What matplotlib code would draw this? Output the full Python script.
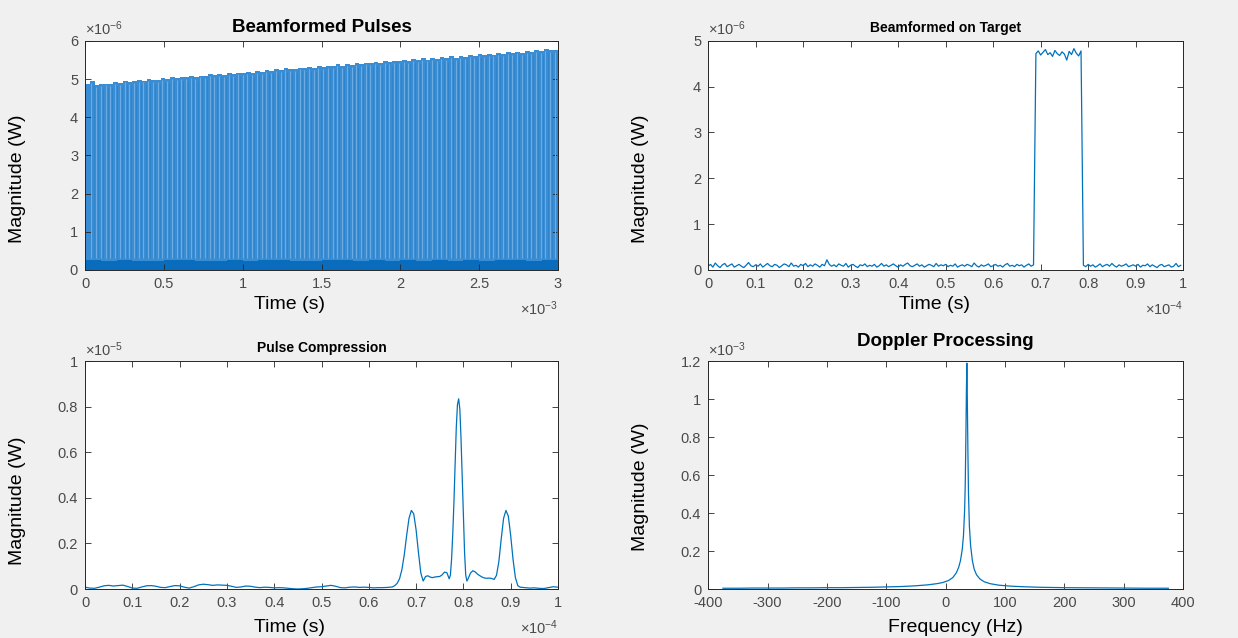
import numpy as np
import matplotlib
matplotlib.use("Agg")
import matplotlib.pyplot as plt
from matplotlib.ticker import FuncFormatter

plt.rcParams['font.family'] = ['Liberation Sans', 'DejaVu Sans']
plt.rcParams['mathtext.fontset'] = 'custom'
plt.rcParams['mathtext.rm'] = 'Liberation Sans'
plt.rcParams['mathtext.it'] = 'Liberation Sans:italic'

BLUE = '#0072BD'

# --- beamformed pulse train (time in ms, magnitude in 1e-6 W) ---
pulse_step_ms = 0.03
pulse_peaks = [
    4.86, 4.95, 4.84, 4.86, 4.88, 4.87, 4.92, 4.90, 4.96, 4.93,
    4.95, 4.97, 4.96, 4.99, 4.97, 4.98, 5.02, 5.00, 5.05, 5.03,
    5.06, 5.04, 5.08, 5.06, 5.09, 5.07, 5.12, 5.10, 5.13, 5.11,
    5.15, 5.13, 5.17, 5.15, 5.19, 5.16, 5.21, 5.19, 5.24, 5.22,
    5.25, 5.23, 5.28, 5.25, 5.27, 5.30, 5.28, 5.32, 5.29, 5.33,
    5.31, 5.35, 5.33, 5.38, 5.35, 5.39, 5.37, 5.42, 5.38, 5.43,
    5.41, 5.45, 5.42, 5.47, 5.44, 5.48, 5.46, 5.50, 5.48, 5.52,
    5.49, 5.54, 5.51, 5.55, 5.53, 5.57, 5.55, 5.59, 5.56, 5.61,
    5.58, 5.62, 5.60, 5.65, 5.62, 5.66, 5.64, 5.68, 5.66, 5.70,
    5.67, 5.72, 5.69, 5.74, 5.71, 5.76, 5.74, 5.78, 5.75, 5.77,
]
floor_step_ms = 0.1
pulse_floor = [
    0.25, 0.22, 0.26, 0.24, 0.23, 0.27, 0.25, 0.22, 0.24, 0.26,
    0.23, 0.25, 0.27, 0.24, 0.22, 0.26, 0.25, 0.23, 0.27, 0.24,
    0.26, 0.22, 0.25, 0.24, 0.27, 0.23, 0.26, 0.25, 0.24, 0.26,
]

# --- single pulse window (time in 1e-4 s, magnitude in 1e-6 W), 0.5 us samples ---
target_step = 0.005
target_mag = [
    0.08, 0.12, 0.06, 0.15, 0.09, 0.05, 0.11, 0.14, 0.07, 0.10, 0.13, 0.06, 0.09, 0.12, 0.08, 0.05, 0.10, 0.16, 0.09, 0.07,
    0.11, 0.08, 0.13, 0.06, 0.10, 0.14, 0.09, 0.07, 0.12, 0.10, 0.05, 0.09, 0.13, 0.11, 0.07, 0.15, 0.08, 0.10, 0.06, 0.12,
    0.09, 0.14, 0.07, 0.11, 0.08, 0.13, 0.10, 0.06, 0.12, 0.09, 0.22, 0.12, 0.08, 0.11, 0.07, 0.13, 0.10, 0.08, 0.14, 0.06,
    0.10, 0.12, 0.08, 0.05, 0.11, 0.09, 0.13, 0.07, 0.10, 0.08, 0.12, 0.06, 0.09, 0.14, 0.08, 0.11, 0.07, 0.10, 0.13, 0.09,
    0.06, 0.11, 0.08, 0.12, 0.15, 0.09, 0.07, 0.10, 0.13, 0.08, 0.11, 0.06, 0.09, 0.12, 0.10, 0.07, 0.14, 0.08, 0.11, 0.09,
    0.12, 0.07, 0.10, 0.08, 0.13, 0.06, 0.09, 0.11, 0.08, 0.12, 0.10, 0.07, 0.15, 0.09, 0.06, 0.11, 0.08, 0.10, 0.13, 0.07,
    0.09, 0.12, 0.08, 0.10, 0.06, 0.11, 0.14, 0.08, 0.10, 0.07, 0.12, 0.09, 0.11, 0.06, 0.10, 0.13, 0.08, 0.11, 4.72, 4.78,
    4.69, 4.75, 4.81, 4.70, 4.74, 4.66, 4.79, 4.72, 4.68, 4.76, 4.71, 4.58, 4.77, 4.70, 4.83, 4.73, 4.67, 4.78, 0.10, 0.07,
    0.12, 0.08, 0.11, 0.06, 0.09, 0.13, 0.07, 0.10, 0.12, 0.08, 0.14, 0.09, 0.06, 0.11, 0.08, 0.10, 0.13, 0.07, 0.09, 0.11,
    0.08, 0.12, 0.06, 0.10, 0.09, 0.13, 0.07, 0.11, 0.08, 0.05, 0.10, 0.12, 0.07, 0.09, 0.11, 0.06, 0.08, 0.14, 0.07, 0.10,
]

# --- matched filter output (time in 1e-4 s, magnitude in 1e-5 W) ---
pc_time = [
    0.00, 0.01, 0.02, 0.03, 0.04, 0.05, 0.06, 0.07, 0.08, 0.09,
    0.10, 0.11, 0.12, 0.13, 0.14, 0.15, 0.16, 0.17, 0.18, 0.19,
    0.20, 0.21, 0.22, 0.23, 0.24, 0.25, 0.26, 0.27, 0.28, 0.29,
    0.30, 0.31, 0.32, 0.33, 0.34, 0.35, 0.36, 0.37, 0.38, 0.39,
    0.40, 0.41, 0.42, 0.43, 0.44, 0.45, 0.46, 0.47, 0.48, 0.49,
    0.50, 0.51, 0.52, 0.53, 0.54, 0.55, 0.56, 0.57, 0.58, 0.59,
    0.60, 0.61, 0.62, 0.63, 0.64, 0.65,
    0.655, 0.66, 0.665, 0.67, 0.675, 0.68, 0.685, 0.69, 0.695, 0.70,
    0.705, 0.71, 0.715, 0.72, 0.725, 0.73, 0.735, 0.74, 0.745, 0.75,
    0.755, 0.76, 0.765, 0.77, 0.7725, 0.775, 0.7775, 0.78, 0.7825, 0.785,
    0.7875, 0.79, 0.7925, 0.795, 0.7975, 0.80, 0.8025, 0.805, 0.8075, 0.81,
    0.815, 0.82, 0.825, 0.83, 0.835, 0.84, 0.845, 0.85, 0.855, 0.86,
    0.865, 0.87, 0.875, 0.88, 0.885, 0.89, 0.895, 0.90, 0.905, 0.91,
    0.915, 0.92, 0.93, 0.94, 0.95, 0.96, 0.97, 0.98, 0.99, 1.00,
]
pc_mag = [
    0.008, 0.004, 0.003, 0.008, 0.014, 0.016, 0.013, 0.015, 0.017, 0.011,
    0.004, 0.003, 0.009, 0.014, 0.015, 0.012, 0.007, 0.006, 0.011, 0.015,
    0.014, 0.008, 0.004, 0.010, 0.018, 0.021, 0.019, 0.016, 0.018, 0.017,
    0.016, 0.012, 0.007, 0.009, 0.013, 0.012, 0.008, 0.006, 0.008, 0.007,
    0.005, 0.006, 0.005, 0.003, 0.001, 0.000, 0.001, 0.003, 0.006, 0.009,
    0.010, 0.013, 0.016, 0.012, 0.006, 0.005, 0.008, 0.009, 0.007, 0.008,
    0.007, 0.005, 0.006, 0.006, 0.007, 0.009,
    0.015, 0.025, 0.045, 0.085, 0.150, 0.235, 0.310, 0.345, 0.330, 0.260,
    0.160, 0.070, 0.035, 0.055, 0.058, 0.052, 0.050, 0.053, 0.054, 0.055,
    0.062, 0.074, 0.072, 0.045, 0.060, 0.130, 0.240, 0.380, 0.550, 0.710,
    0.810, 0.835, 0.790, 0.660, 0.490, 0.310, 0.160, 0.060, 0.035, 0.045,
    0.070, 0.080, 0.075, 0.065, 0.058, 0.052, 0.048, 0.047, 0.048, 0.046,
    0.042, 0.060, 0.120, 0.220, 0.310, 0.345, 0.320, 0.235, 0.130, 0.050,
    0.015, 0.008, 0.006, 0.004, 0.005, 0.003, 0.002, 0.006, 0.010, 0.008,
]

# --- doppler spectrum (Hz, magnitude in 1e-3 W) ---
dop_freq = [
    -375, -350, -325, -300, -275, -250, -225, -200, -175, -150,
    -125, -100, -75, -50, -30, -15, -5, 5, 12, 18,
    22, 25, 28, 30, 32, 33, 34, 35, 35.7, 36.5,
    37.5, 38.5, 40, 42, 45, 48, 52, 58, 65, 75,
    90, 110, 130, 160, 200, 250, 300, 340, 375,
]
dop_mag = [
    0.004, 0.004, 0.005, 0.005, 0.005, 0.006, 0.006, 0.007, 0.007, 0.008,
    0.009, 0.011, 0.013, 0.017, 0.022, 0.028, 0.034, 0.045, 0.060, 0.085,
    0.115, 0.150, 0.210, 0.280, 0.420, 0.550, 0.780, 1.050, 1.190, 1.000,
    0.720, 0.500, 0.330, 0.230, 0.150, 0.105, 0.075, 0.052, 0.038, 0.028,
    0.020, 0.015, 0.012, 0.009, 0.007, 0.006, 0.005, 0.004, 0.004,
]

fig = plt.figure(figsize=(12.38, 6.38), dpi=100, facecolor='#f0f0f0')

ax_tl = fig.add_axes([0.0687, 0.577, 0.382, 0.359])
ax_tr = fig.add_axes([0.572, 0.577, 0.3837, 0.359])
ax_bl = fig.add_axes([0.0687, 0.0768, 0.382, 0.357])
ax_br = fig.add_axes([0.572, 0.0768, 0.3837, 0.357])

g_fmt = FuncFormatter(lambda v, p: ('%g' % round(v, 6)))


def style(ax, xlim, xticks, ylim, yticks):
    ax.set_facecolor('white')
    ax.set_xlim(*xlim)
    ax.set_ylim(*ylim)
    ax.set_xticks(xticks)
    ax.set_yticks(yticks)
    ax.xaxis.set_major_formatter(g_fmt)
    ax.yaxis.set_major_formatter(g_fmt)
    ax.tick_params(direction='in', length=4, width=0.6, top=True, right=True,
                   labelsize=10.5, labelcolor='#4a4a4a', color='#262626', pad=5)
    for s in ax.spines.values():
        s.set_color('#262626')
        s.set_linewidth(0.7)


def exponent(ax, txt, where):
    if where == 'top':
        ax.text(0.0, 1.012, txt, transform=ax.transAxes, ha='left', va='bottom',
                fontsize=10.5, color='#4a4a4a')
    else:
        ax.text(1.0, -0.13, txt, transform=ax.transAxes, ha='right', va='top',
                fontsize=10.5, color='#4a4a4a')


# beamformed pulses: solid pulse fill, light sample stripes, dark noise floor band
pt = np.arange(len(pulse_peaks)) * pulse_step_ms
ax_tl.bar(pt, pulse_peaks, width=pulse_step_ms, align='edge', color='#3a8dd2', linewidth=0)
ax_tl.vlines(pt[1:] + pulse_step_ms * 0.35, 0.3, np.array(pulse_peaks[1:]) - 0.05,
             color='#6eaee3', lw=0.7)
ax_tl.vlines(pt[1:] + pulse_step_ms * 0.8, 0.3, np.array(pulse_peaks[1:]) - 0.1,
             color='#2c84cc', lw=0.6)
ft = np.arange(len(pulse_floor) + 1) * floor_step_ms
ax_tl.fill_between(ft, 0, pulse_floor + [pulse_floor[-1]], step='post', color='#0a6cbd', lw=0)
style(ax_tl, (0, 3), np.arange(0, 3.01, 0.5), (0, 6), range(0, 7))
exponent(ax_tl, r'$\times10^{-6}$', 'top')
exponent(ax_tl, r'$\times10^{-3}$', 'bottom')
ax_tl.set_title('Beamformed Pulses', fontsize=13.5, fontweight='bold', pad=6.5)

# beamformed on target
tt = np.arange(len(target_mag)) * target_step
ax_tr.plot(tt, target_mag, color=BLUE, lw=0.9)
style(ax_tr, (0, 1), np.arange(0, 1.01, 0.1), (0, 5), range(0, 6))
exponent(ax_tr, r'$\times10^{-6}$', 'top')
exponent(ax_tr, r'$\times10^{-4}$', 'bottom')
ax_tr.set_title('Beamformed on Target', fontsize=10, fontweight='bold', pad=6.5)

# pulse compression
ax_bl.plot(pc_time, pc_mag, color=BLUE, lw=0.9)
style(ax_bl, (0, 1), np.arange(0, 1.01, 0.1), (0, 1), np.arange(0, 1.01, 0.2))
exponent(ax_bl, r'$\times10^{-5}$', 'top')
exponent(ax_bl, r'$\times10^{-4}$', 'bottom')
ax_bl.set_title('Pulse Compression', fontsize=10, fontweight='bold', pad=6.5)

# doppler processing
ax_br.plot(dop_freq, dop_mag, color=BLUE, lw=0.9)
style(ax_br, (-400, 400), range(-400, 401, 100), (0, 1.2), np.arange(0, 1.21, 0.2))
exponent(ax_br, r'$\times10^{-3}$', 'top')
ax_br.set_title('Doppler Processing', fontsize=13.5, fontweight='bold', pad=11)

for ax, xl, xf, yf, xy in [(ax_tl, 'Time (s)', 0.433, 0.40, -0.115),
                           (ax_tr, 'Time (s)', 0.476, 0.40, -0.115),
                           (ax_bl, 'Time (s)', 0.433, 0.386, -0.13),
                           (ax_br, 'Frequency (Hz)', 0.52, 0.447, -0.13)]:
    ax.set_xlabel(xl, fontsize=14)
    ax.set_ylabel('Magnitude (W)', fontsize=14)
    ax.xaxis.set_label_coords(xf, xy)
    ax.yaxis.set_label_coords(-0.125, yf)

fig.savefig('out.png', dpi=100, facecolor=fig.get_facecolor())
